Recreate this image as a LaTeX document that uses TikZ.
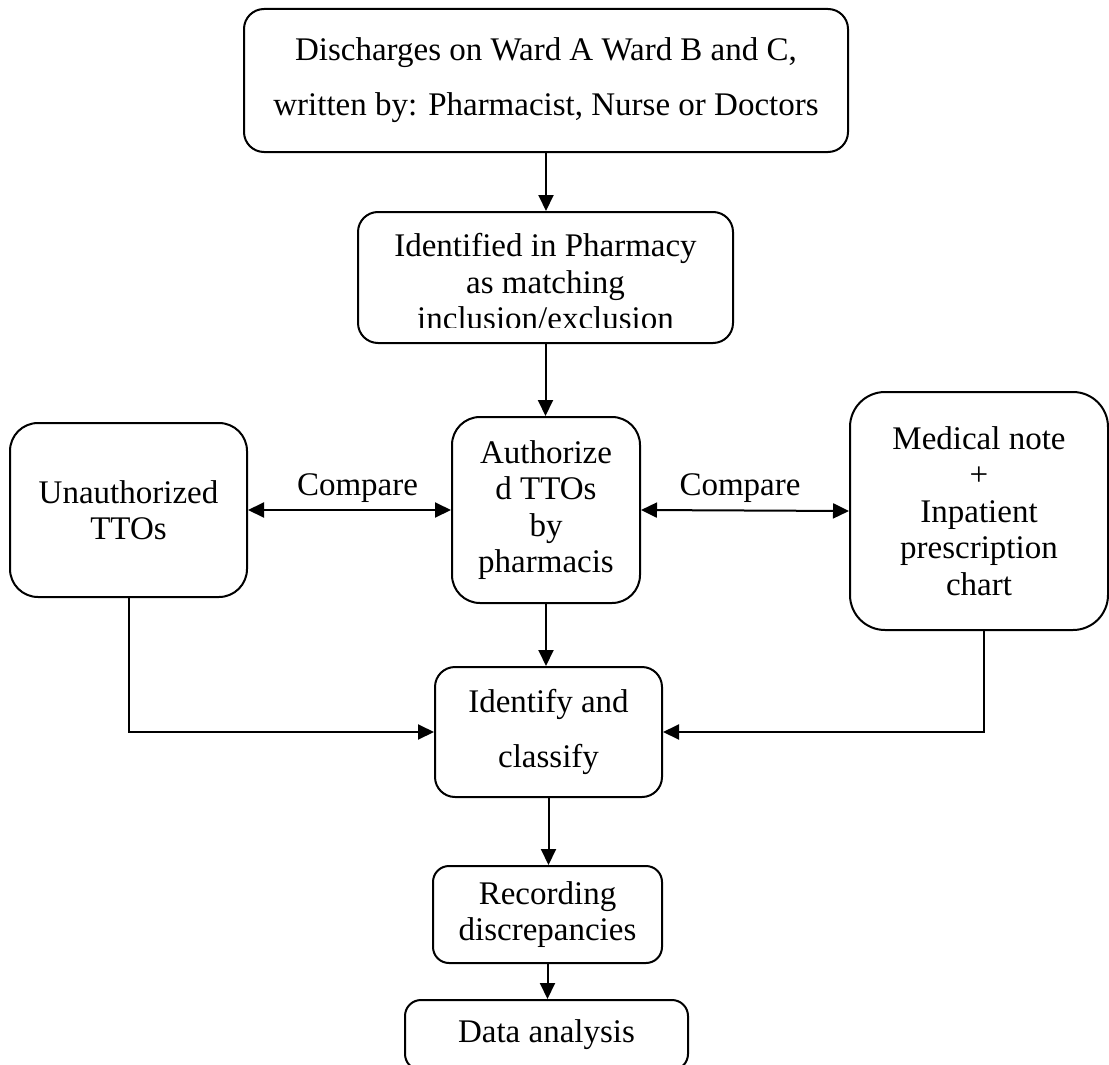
\documentclass[tikz,border=0pt]{standalone}
\usepackage{fontspec}
\setmainfont{Liberation Serif}
\usetikzlibrary{arrows.meta, positioning}

\tikzset{
  flowbox/.style={draw, line width=2pt, rounded corners=20pt, align=center, inner sep=0pt},
  widebox/.style={flowbox, font=\fontsize{33}{55}\selectfont},
  plaintext/.style={align=center, inner sep=0pt},
  flowarrow/.style={line width=2pt, -{Triangle[length=16pt, width=15pt]}},
  botharrow/.style={line width=2pt, {Triangle[length=16pt, width=15pt]}-{Triangle[length=16pt, width=15pt]}}
}

\begin{document}
\begin{tikzpicture}[x=1pt, y=-1pt, font=\fontsize{33}{36.5}\selectfont]
\useasboundingbox (0,0) rectangle (1109,1065);

% Boxes
\node[widebox, minimum width=604pt, minimum height=143pt] (discharge) at (546,80.5) {Discharges on Ward A Ward B and C,\\written by: Pharmacist, Nurse or Doctors};

\node[flowbox, minimum width=375pt, minimum height=131pt] (pharmacy) at (545.5,277.5) {};
\begin{scope}
  \clip (pharmacy.north west) rectangle ([yshift=17pt]pharmacy.south east);
  \node[plaintext] (pharmacytext) at (545.5,282) {Identified in Pharmacy\\as matching\\inclusion/exclusion};
\end{scope}

\node[flowbox, minimum width=188pt, minimum height=186pt, rounded corners=28pt] (authorized) at (546,510) {Authorize\\d TTOs\\by\\pharmacis};
\node[flowbox, minimum width=237pt, minimum height=174pt, rounded corners=28pt] (unauthorized) at (128.5,510) {Unauthorized\\TTOs};
\node[flowbox, minimum width=258pt, minimum height=238pt, rounded corners=35pt] (medical) at (979,511) {Medical note\\+\\Inpatient\\prescription\\chart};

\node[widebox, minimum width=227pt, minimum height=130pt] (classify) at (548.5,732) {Identify and\\classify};
\node[flowbox, minimum width=229pt, minimum height=97pt, rounded corners=16pt] (recording) at (547.5,914.5) {Recording\\discrepancies};
\node[flowbox, minimum width=283pt, minimum height=70pt, rounded corners=16pt] (analysis) at (546.5,1035) {Data analysis};

% Main flow
\draw[flowarrow] (discharge.south) -- (discharge.south |- pharmacy.north);
\draw[flowarrow] (pharmacy.south) -- (pharmacy.south |- authorized.north);
\draw[flowarrow] (authorized.south) -- (authorized.south |- classify.north);
\draw[flowarrow] (classify.south) -- (classify.south |- recording.north);
\draw[flowarrow] (recording.south) -- (recording.south |- analysis.north);

% Comparisons
\draw[botharrow] (unauthorized.east) -- node[anchor=base, yshift=15pt, xshift=8pt] (cmpleft) {Compare} (authorized.west);
\draw[botharrow] (authorized.east) -- node[anchor=base, yshift=15pt, xshift=-5pt] (cmpright) {Compare} (medical.west);

% Side inputs
\draw[flowarrow] (unauthorized.south) |- (classify.west);
\draw[flowarrow] ([xshift=5pt]medical.south) |- (classify.east);

\end{tikzpicture}
\end{document}
